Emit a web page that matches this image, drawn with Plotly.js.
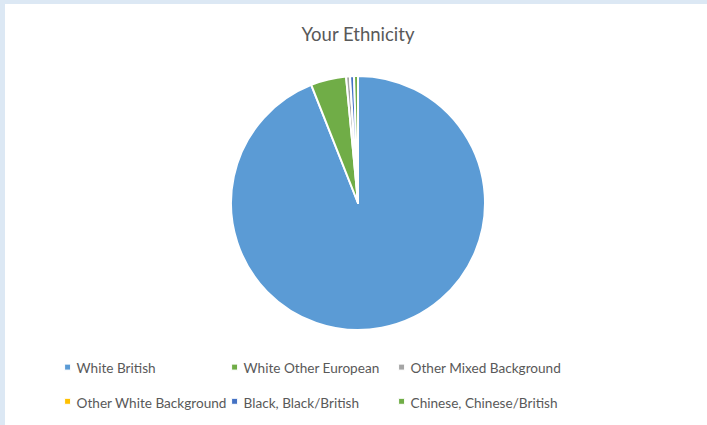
<!DOCTYPE html>
<html>
<head>
<meta charset="utf-8">
<script src="https://cdn.plot.ly/plotly-3.0.1.min.js"></script>
<style>
  html, body { margin:0; padding:0; width:707px; height:425px; background:#dce8f4; overflow:hidden; }
  #chart { position:absolute; left:5px; top:4px; width:702px; height:421px; background:#fff; }
</style>
</head>
<body>
<div id="chart"></div>
<script>
const categories = ["White British", "White Other European", "Other Mixed Background",
                    "Other White Background", "Black, Black/British", "Chinese, Chinese/British"];
const values = [94.0, 4.5, 0.5, 0.0, 0.5, 0.5];
const colors = ["#5b9bd5", "#70ad47", "#a5a5a5", "#ffc000", "#4472c4", "#70ad47"];

const W = 702, H = 421;
const MR = 50;              // right margin used only to make the legend wrap after 3 entries
const PW = W - MR;          // plot-area width
const cx = 353, cy = 199, r = 127;

const trace = {
  type: "pie",
  labels: categories.map(c => '<span style="font-size:13.6px">' + c + '</span>'),
  values: values,
  sort: false,
  direction: "clockwise",
  rotation: 0,
  textinfo: "none",
  hoverinfo: "percent",
  marker: { colors: colors, line: { color: "#ffffff", width: 2 } },
  domain: { x: [(cx - r) / PW, (cx + r) / PW], y: [(H - cy - r) / H, (H - cy + r) / H] },
  showlegend: true
};

const layout = {
  width: W, height: H,
  margin: { l: 0, r: MR, t: 0, b: 0, autoexpand: false },
  paper_bgcolor: "#ffffff",
  font: { family: "Lato, 'Open Sans', sans-serif", color: "#595959" },
  title: {
    text: "Your Ethnicity",
    font: { family: "Lato, 'Open Sans', sans-serif", size: 18.5, color: "#595959" },
    x: 353 / W, xref: "container", xanchor: "center",
    y: 1 - 31 / H, yref: "container", yanchor: "middle"
  },
  legend: {
    orientation: "h",
    x: 31.6 / PW, xanchor: "left",
    y: 1 - 338 / H, yanchor: "top",
    entrywidth: 122, entrywidthmode: "pixels",
    font: { size: 24, color: "#595959" },
    itemclick: false, itemdoubleclick: false,
    traceorder: "normal"
  },
  showlegend: true
};

Plotly.newPlot("chart", [trace], layout, { displayModeBar: false, staticPlot: true }).then(() => {
  // let the last legend column show its full text instead of being clipped at the entry width
  document.querySelectorAll("#chart .legend .scrollbox").forEach(el => el.removeAttribute("clip-path"));
  // small swatches sitting close to their text, as in the original
  document.querySelectorAll("#chart .legend .legendpoints").forEach(el => {
    el.setAttribute("transform", ((el.getAttribute("transform") || "") + " translate(11,3)").trim());
  });
  document.querySelectorAll("#chart .legend path.legendpie").forEach(el => {
    el.setAttribute("transform", ((el.getAttribute("transform") || "") + " scale(0.5)").trim());
  });
});
</script>
</body>
</html>
